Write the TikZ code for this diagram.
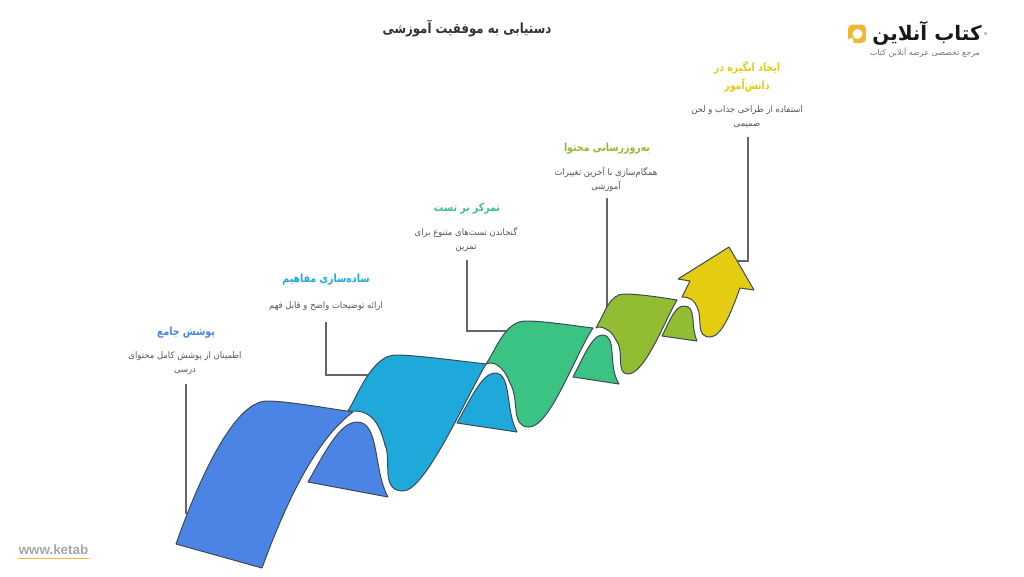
\documentclass[tikz,border=0pt]{standalone}
\usepackage{fontspec}
\setmainfont{DejaVu Sans}
\newfontfamily\arabicfont[Script=Arabic]{DejaVu Sans}
\newfontfamily\headfont[Script=Arabic,FakeStretch=0.84]{DejaVu Sans}
\newfontfamily\descfont[Script=Arabic,FakeStretch=0.94]{DejaVu Sans}
\newfontfamily\latinfont{Liberation Sans}
\TeXXeTstate=1
\newcommand{\rl}[1]{\beginR #1\endR}
\definecolor{cblue}{HTML}{4C84E6}
\definecolor{cteal}{HTML}{1FA9DB}
\definecolor{cgreen}{HTML}{3AC383}
\definecolor{colive}{HTML}{92BC32}
\definecolor{cyellow}{HTML}{E3CC12}
\definecolor{cedge}{HTML}{3C4A55}
\definecolor{cdesc}{HTML}{555555}
\definecolor{cline}{HTML}{666666}
\definecolor{camber}{HTML}{F2B636}
\tikzset{
  band/.style={draw=cedge,line width=1pt,line join=round},
  conn/.style={draw=cline,line width=1.4pt},
  heading/.style={font=\headfont\bfseries\fontsize{11.2}{18}\selectfont,align=center,inner sep=0pt},
  desc/.style={font=\descfont\fontsize{9}{14}\selectfont,text=cdesc,align=center,inner sep=0pt},
}
\begin{document}
\begin{tikzpicture}[x=1pt,y=-1pt]
\useasboundingbox (0,0) rectangle (1024,576);
% connector ends
\coordinate (c1a) at (186,384); \coordinate (c1b) at (186,514);
\coordinate (c2a) at (326,322); \coordinate (c2c) at (326,375); \coordinate (c2b) at (372,375);
\coordinate (c3a) at (467,260); \coordinate (c3c) at (467,331); \coordinate (c3b) at (511,331);
\coordinate (c4a) at (607,198); \coordinate (c4b) at (607,318);
\coordinate (c5a) at (748,137); \coordinate (c5c) at (748,261); \coordinate (c5b) at (736,261);
\draw[conn] (c1a) -- (c1b);
\draw[conn] (c2a) -- (c2c) -- (c2b);
\draw[conn] (c3a) -- (c3c) -- (c3b);
\draw[conn] (c4a) -- (c4b);
\draw[conn] (c5a) -- (c5c) -- (c5b);
% blue
\draw[band,fill=cblue] (176,544) .. controls (195,490) and (232,401) .. (267,401) .. controls (285,401) and (320,407) .. (353,412) .. controls (315,440) and (285,505) .. (262,568) -- cycle;
\draw[band,fill=cblue] (308,482) .. controls (325,452) and (340,422) .. (357,422) .. controls (380,422) and (373,470) .. (388,497) -- cycle;
% teal
\draw[band,fill=cteal] (348,411) .. controls (358,395) and (372,355) .. (396,355) .. controls (415,355) and (460,361) .. (486,364) .. controls (465,400) and (425,491) .. (403,491) .. controls (380,491) and (392,460) .. (385,445) .. controls (380,425) and (372,411) .. (355,411) -- cycle;
\draw[band,fill=cteal] (457,423) .. controls (470,400) and (482,373) .. (495,373) .. controls (512,373) and (505,410) .. (517,432) -- cycle;
% green
\draw[band,fill=cgreen] (486,364) .. controls (497,348) and (505,321) .. (526,321) .. controls (545,321) and (575,326) .. (593,328) .. controls (575,355) and (550,427) .. (529,427) .. controls (510,427) and (520,400) .. (510,383) .. controls (505,370) and (498,363) .. (490,363) -- cycle;
\draw[band,fill=cgreen] (573,377) .. controls (582,360) and (592,335) .. (602,335) .. controls (618,335) and (607,365) .. (619,384) -- cycle;
% olive
\draw[band,fill=colive] (596,328) .. controls (605,312) and (610,294) .. (624,294) .. controls (640,294) and (665,298) .. (677,300) .. controls (665,320) and (645,374) .. (628,374) .. controls (615,374) and (625,350) .. (616,340) .. controls (612,332) and (606,327) .. (598,327) -- cycle;
\draw[band,fill=colive] (662,336) .. controls (670,320) and (675,306) .. (684,306) .. controls (697,306) and (690,325) .. (697,341) -- cycle;
% arrow
\draw[band,fill=cyellow] (682,297) -- (690,281) -- (678,279) -- (729,247) -- (754,290) -- (740,288) .. controls (732,310) and (722,337) .. (710,337) .. controls (695,337) and (703,318) .. (697,307) .. controls (694,300) and (690,297) .. (682,297) -- cycle;
% texts
\node[font=\headfont\bfseries\fontsize{14}{16}\selectfont,text=black!80,inner sep=0pt] (title) at (467,29) {\rl{دستیابی به موفقیت آموزشی}};
\node[heading,text=cblue] (h1) at (186,332.5) {\rl{پوشش جامع}};
\node[desc] (d1) at (185,363) {\rl{اطمینان از پوشش کامل محتوای}\\\rl{درسی}};
\node[heading,text=cteal] (h2) at (326,279.5) {\rl{ساده^^^^200cسازی مفاهیم}};
\node[desc] (d2) at (326,306) {\rl{ارائه توضیحات واضح و قابل فهم}};
\node[heading,text=cgreen] (h3) at (467,208.5) {\rl{تمرکز بر تست}};
\node[desc] (d3) at (466,240) {\rl{گنجاندن تست^^^^200cهای متنوع برای}\\\rl{تمرین}};
\node[heading,text=colive] (h4) at (607,148.5) {\rl{به^^^^200cروزرسانی محتوا}};
\node[desc] (d4) at (606,179) {\rl{همگام^^^^200cسازی با آخرین تغییرات}\\\rl{آموزشی}};
\node[heading,text=cyellow] (h5) at (747,77) {\rl{ایجاد انگیزه در}\\\rl{دانش^^^^200cآموز}};
\node[desc] (d5) at (747,117) {\rl{استفاده از طراحی جذاب و لحن}\\\rl{صمیمی}};
% logo
\fill[camber,rounded corners=4.5pt] (848,24.5) rectangle (866,43);
\fill[white] (857.5,34) circle (5pt);
\fill[white] (847.5,40.5) -- (852,37) -- (854,43.5) -- (847.5,43.5) -- cycle;
\node[font=\arabicfont\bfseries\fontsize{20}{22}\selectfont,text=black!90,inner sep=0pt] (logo) at (927,33) {\rl{کتاب آنلاین}};
\node[font=\arabicfont\fontsize{4}{5}\selectfont,text=black!70,inner sep=0pt] (logor) at (985.5,34) {®};
\node[font=\arabicfont\fontsize{8}{9}\selectfont,text=black!55,inner sep=0pt] (logosub) at (925,52.5) {\rl{مرجع تخصصی عرضه آنلاین کتاب}};
% watermark
\node[font=\latinfont\bfseries\fontsize{13.4}{15}\selectfont,text=black!35,inner sep=0pt] (www) at (53.5,550) {www.ketab};
\coordinate (ua) at (18,558); \coordinate (ub) at (89,558);
\draw[camber,line width=0.8pt] (ua) -- (ub);
\end{tikzpicture}
\end{document}
